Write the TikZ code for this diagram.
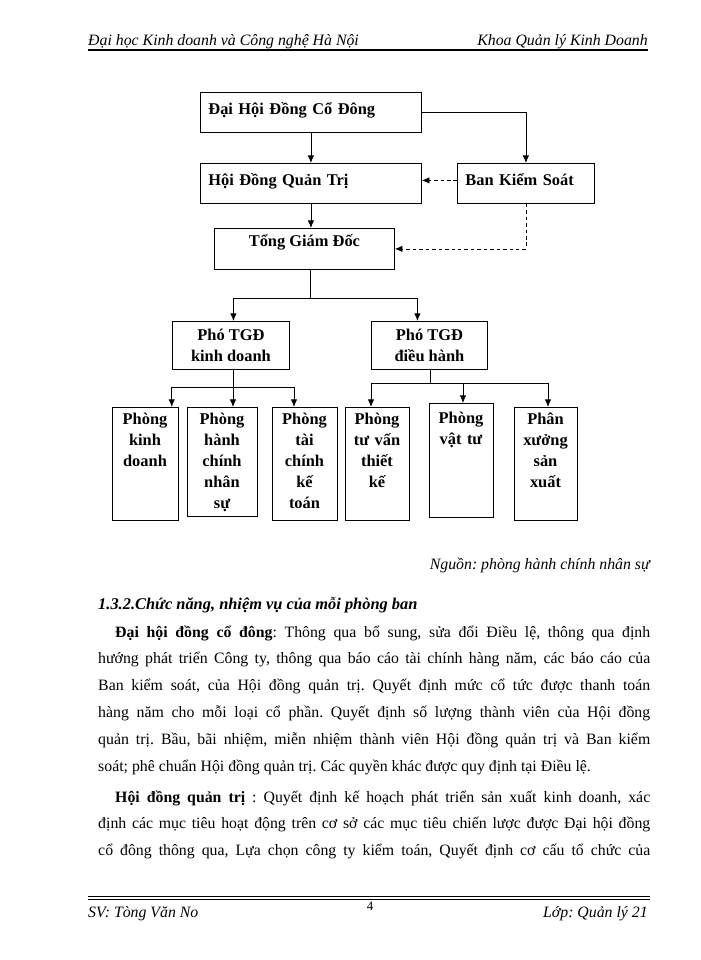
\documentclass[tikz,border=0pt]{standalone}
\usepackage{fontspec}
\setmainfont{Liberation Serif}
\usetikzlibrary{arrows.meta}

\tikzset{
  hop/.style={draw, line width=0.7pt, inner sep=0pt, font=\bfseries\fontsize{14}{18}\selectfont},
  hoptren/.style={hop, anchor=north west, minimum height=1.2cm, align=left,
    text height=0.42cm, text depth=0.3cm, inner xsep=0.24cm},
  hopgiua/.style={hop, anchor=north west, align=center},
  phong/.style={hop, anchor=north, align=center, text height=0.51cm},
  muiten/.style={-{Latex[length=6.5pt,width=5.5pt]}, line width=0.7pt},
  netdut/.style={muiten, dash pattern=on 3pt off 2.5pt},
  vanban/.style={font=\fontsize{13.5}{23}\selectfont, inner sep=0pt},
  nghieng/.style={font=\itshape\fontsize{13.5}{16}\selectfont, inner sep=0pt}
}

\begin{document}
\frenchspacing
\begin{tikzpicture}[x=0.03cm, y=-0.03cm]
  \useasboundingbox[fill=white] (0,0) rectangle (700,960);

  % Dau trang
  \node[nghieng, anchor=base west] (dautrai) at (88,46) {Đại học Kinh doanh và Công nghệ Hà Nội};
  \node[nghieng, anchor=base east] (dauphai) at (648,46) {Khoa Quản lý Kinh Doanh};
  \draw[line width=1pt] (88,50) -- (648,50);

  % So do to chuc
  \node[hoptren, text width=6.15cm] (dhdcd) at (200,92) {Đại Hội Đồng Cổ Đông};
  \node[hoptren, text width=6.15cm] (hdqt) at (200,163) {Hội Đồng Quản Trị};
  \node[hoptren, text width=3.63cm] (bks) at (457,163) {Ban Kiểm Soát};
  \node[hopgiua, minimum width=5.4cm, minimum height=1.23cm,
    text height=0.42cm, text depth=0.54cm] (tgd) at (214,228) {Tổng Giám Đốc};

  \node[hopgiua, minimum width=3.51cm, minimum height=1.44cm] (phokd) at (172,321) {Phó TGĐ\\kinh doanh};
  \node[hopgiua, minimum width=3.48cm, minimum height=1.44cm] (phodh) at (371,321) {Phó TGĐ\\điều hành};

  % Cac phong ban
  \node[phong, text width=1.98cm, text depth=2.88cm] (pkd) at (145,407) {Phòng\\kinh\\doanh};
  \node[phong, text width=2.1cm, text depth=2.76cm] (phcns) at (222,407) {Phòng\\hành\\chính\\nhân\\sự};
  \node[phong, text width=1.95cm, text depth=2.88cm] (ptckt) at (304.5,407) {Phòng\\tài\\chính\\kế\\toán};
  \node[phong, text width=1.92cm, text depth=2.88cm] (ptvtk) at (377,407) {Phòng\\tư vấn\\thiết\\kế};
  \node[phong, text width=1.92cm, text height=0.6cm, text depth=2.82cm] (pvt) at (461,403) {Phòng\\vật tư};
  \node[phong, text width=1.89cm, text depth=2.88cm] (pxsx) at (545.5,407) {Phân\\xưởng\\sản\\xuất};

  % Duong noi
  \draw[muiten] (dhdcd) -- (hdqt);
  \draw[muiten] (dhdcd.east) -| (bks.north);
  \draw[netdut] ([yshift=0.09cm]bks.west) -- ([yshift=0.09cm]hdqt.east);
  \draw[muiten] (hdqt.south) -- (hdqt.south |- tgd.north);
  \draw[netdut] (bks.south) |- (tgd.east);

  \coordinate (re1) at (310.5,298);
  \draw[line width=0.7pt] (tgd.south -| re1) -- (re1);
  \draw[muiten] (re1) -| ([xshift=0.075cm]phokd.north);
  \draw[muiten] (re1) -| ([xshift=-0.36cm]phodh.north);

  \coordinate (re2) at (233,387);
  \draw[line width=0.7pt] (phokd.south -| re2) -- (re2);
  \draw[muiten] (re2) -| ([xshift=-0.2cm]pkd.north east);
  \draw[muiten] (re2) -- (re2 |- phcns.north);
  \draw[muiten] (re2) -| ([xshift=-0.315cm]ptckt.north);

  \coordinate (re3) at (430,383);
  \draw[line width=0.7pt] (phodh.south -| re3) -- (re3);
  \draw[muiten] (re3) -| ([xshift=-0.18cm]ptvtk.north);
  \draw[muiten] (re3) -| ([xshift=0.06cm]pvt.north);
  \draw[muiten] (re3) -| ([xshift=0.075cm]pxsx.north);

  % Nguon
  \node[nghieng, anchor=base east] (nguon) at (650,569) {Nguồn: phòng hành chính nhân sự};

  % Noi dung
  \node[vanban, anchor=base west, font=\bfseries\itshape\fontsize{14}{16}\selectfont] (muc) at (98,609) {1.3.2.Chức năng, nhiệm vụ của mỗi phòng ban};
  \node[vanban, anchor=base west, text width=16.56cm, align=justify] (doan1) at (98,637) {\hspace*{0.51cm}\textbf{Đại hội đồng cổ đông}: Thông qua bổ sung, sửa đổi Điều lệ, thông qua định\linebreak
    hướng phát triển Công ty, thông qua báo cáo tài chính hàng năm, các báo cáo của\linebreak
    Ban kiểm soát, của Hội đồng quản trị. Quyết định mức cổ tức được thanh toán\linebreak
    hàng năm cho mỗi loại cổ phần. Quyết định số lượng thành viên của Hội đồng\linebreak
    quản trị. Bầu, bãi nhiệm, miễn nhiệm thành viên Hội đồng quản trị và Ban kiểm\linebreak
    soát; phê chuẩn Hội đồng quản trị. Các quyền khác được quy định tại Điều lệ.};
  \node[vanban, anchor=base west, text width=16.56cm, align=justify] (doan2) at (98,802) {\hspace*{0.51cm}\textbf{Hội đồng quản trị} : Quyết định kế hoạch phát triển sản xuất kinh doanh, xác\linebreak
    định các mục tiêu hoạt động trên cơ sở các mục tiêu chiến lược được Đại hội đồng\linebreak
    cổ đông thông qua, Lựa chọn công ty kiểm toán, Quyết định cơ cấu tổ chức của\parfillskip=0pt\par};

  % Chan trang
  \draw[line width=0.5pt] (88,896) -- (650,896);
  \draw[line width=0.8pt] (88,899) -- (650,899);
  \node[nghieng, anchor=base west] (sv) at (88,917) {SV: Tòng Văn No};
  \node[anchor=base, font=\fontsize{11}{13}\selectfont, inner sep=0pt] (trang) at (370,910) {4};
  \node[nghieng, anchor=base east] (lop) at (648,917) {Lớp: Quản lý 21};
\end{tikzpicture}
\end{document}
